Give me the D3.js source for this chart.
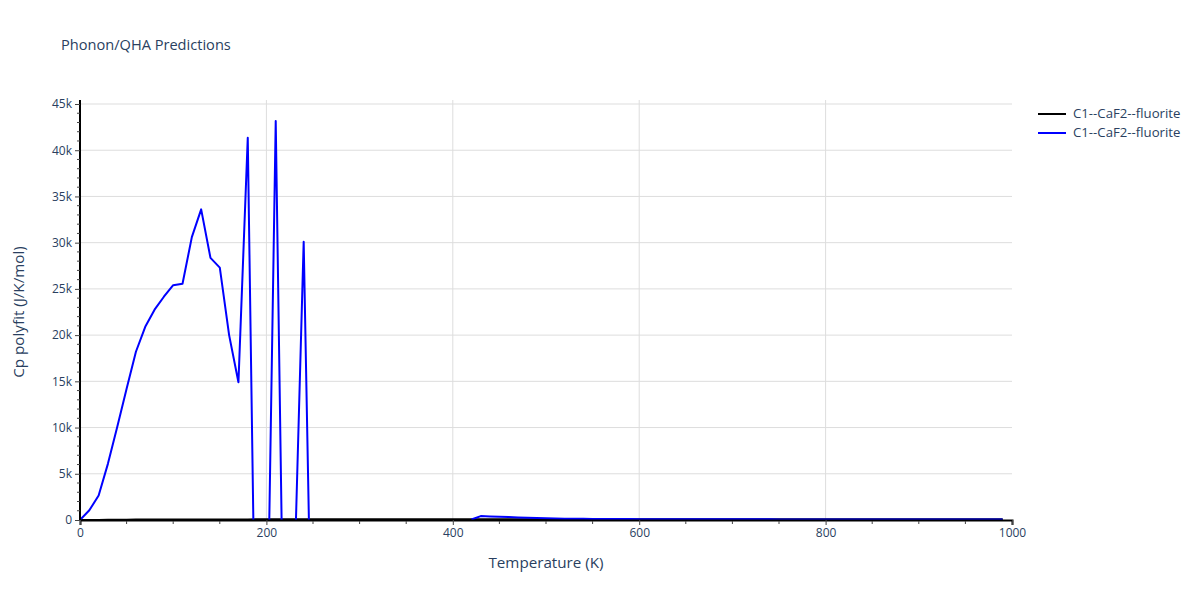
<!DOCTYPE html>
<html>
<head>
<meta charset="utf-8">
<script src="https://cdn.jsdelivr.net/npm/d3@7/dist/d3.min.js"></script>
<style>
  body { margin: 0; background: #fff; }
  text { font-family: "Open Sans", "DejaVu Sans", sans-serif; fill: #2a3f5f; }
</style>
</head>
<body>
<svg id="chart" width="1200" height="600"></svg>
<script>
// ---- data ----
const temperatures = [0,10,20,30,40,50,60,70,80,90,100,110,120,130,140,150,160,170,180,190,200,210,220,230,240,250,260,270,280,290,300,310,320,330,340,350,360,370,380,390,400,410,420,430,440,450,460,470,480,490,500,510,520,530,540,550,560,570,580,590,600,610,620,630,640,650,660,670,680,690,700,710,720,730,740,750,760,770,780,790,800,810,820,830,840,850,860,870,880,890,900,910,920,930,940,950,960,970,980,990];
const blackSeries = [0,2,10,20,30,38,45,50,54,57,60,62,63,64,65,66,66,67,67,68,68,68,69,69,69,69,70,70,70,70,70,70,70,71,71,71,71,71,71,71,71,71,71,71,71,72,72,72,72,72,72,72,72,72,72,72,72,72,72,72,72,72,72,72,72,72,72,72,72,72,72,72,72,72,72,72,72,72,72,72,72,72,72,72,72,72,72,72,72,72,72,72,72,72,72,72,72,72,72,72];
const blueSeries = [0,1050,2650,6100,10100,14200,18200,20900,22750,24150,25400,25550,30600,33600,28350,27300,20000,14900,41350,-27600,-19400,43150,-25300,-6200,30100,-23600,
  null,null,null,null,null,null,null,null,null,null,null,null,null,null,null,null,
  50,420,390,360,320,280,240,210,180,160,145,135,125,118,112,106,100,96,92,89,86,84,82,80,78,76,74,73,72,71,70,69,68,67,66,66,65,65,64,64,63,63,62,62,62,61,61,61,60,60,60,60,59,59,59,59,58,58];
const seriesNames = ["C1--CaF2--fluorite", "C1--CaF2--fluorite"];
const seriesColors = ["#000000", "#0000ff"];
const xTicks = [0,200,400,600,800,1000];
const yTicks = [0,5000,10000,15000,20000,25000,30000,35000,40000,45000];
const yTickLabels = ["0","5k","10k","15k","20k","25k","30k","35k","40k","45k"];

// ---- layout ----
const svg = d3.select("#chart");
const L = 80, R = 1012, T = 104, B = 520;
const x = d3.scaleLinear().domain([0, 1000]).range([L, R]);
const y = d3.scaleLinear().domain([0, 45000]).range([B, T]);

// gridlines
const grid = svg.append("g");
grid.selectAll("line.gx").data(xTicks.filter(d => d > 0 && d < 1000)).enter().append("line")
  .attr("x1", d => x(d)).attr("x2", d => x(d)).attr("y1", T - 4).attr("y2", B)
  .attr("stroke", "#dddddd").attr("stroke-width", 1);
grid.selectAll("line.gy").data(yTicks.filter(d => d > 0)).enter().append("line")
  .attr("x1", L).attr("x2", R).attr("y1", d => y(d)).attr("y2", d => y(d))
  .attr("stroke", "#dddddd").attr("stroke-width", 1);

// clip
svg.append("clipPath").attr("id", "clip").append("rect")
  .attr("x", L).attr("y", T - 4).attr("width", R - L).attr("height", B - T + 4);

const lineGen = d3.line()
  .defined(d => d[1] !== null)
  .x(d => x(d[0])).y(d => y(d[1]));

const plot = svg.append("g").attr("clip-path", "url(#clip)");
[blackSeries, blueSeries].forEach((s, i) => {
  plot.append("path")
    .datum(temperatures.map((t, j) => [t, s[j]]))
    .attr("d", lineGen)
    .attr("fill", "none")
    .attr("stroke", seriesColors[i])
    .attr("stroke-width", 2)
    .attr("stroke-linejoin", "round");
});

// axes
const xAxis = d3.axisBottom(x).tickValues(xTicks).tickSize(5).tickPadding(3).tickFormat(d3.format("d"));
const gx = svg.append("g").attr("transform", `translate(0,${B})`).call(xAxis);
gx.select(".domain").attr("stroke", "#000").attr("stroke-width", 2);
gx.selectAll(".tick line").attr("stroke", "#444");
gx.selectAll(".tick text").style("font-size", "12px").attr("fill", "#2a3f5f");
const xMinor = d3.range(0, 1001, 50).filter(d => d % 200 !== 0);
svg.append("g").selectAll("line").data(xMinor).enter().append("line")
  .attr("x1", d => x(d)).attr("x2", d => x(d)).attr("y1", B + 1).attr("y2", B + 4)
  .attr("stroke", "#444");

const yAxis = d3.axisLeft(y).tickValues(yTicks).tickSize(5).tickPadding(3)
  .tickFormat((d, i) => yTickLabels[i]);
const gy = svg.append("g").attr("transform", `translate(${L},0)`).call(yAxis);
gy.select(".domain").attr("stroke", "#000").attr("stroke-width", 2).attr("d", `M0,${T - 4}V${B}`);
gy.selectAll(".tick line").attr("stroke", "#444");
gy.selectAll(".tick text").style("font-size", "12px").attr("fill", "#2a3f5f");
const yMinor = d3.range(0, 46000, 1000).filter(d => d % 5000 !== 0);
svg.append("g").selectAll("line").data(yMinor).enter().append("line")
  .attr("x1", L - 3).attr("x2", L).attr("y1", d => y(d)).attr("y2", d => y(d))
  .attr("stroke", "#444");

// titles
svg.append("text").attr("x", 61).attr("y", 50).style("font-size", "14.6px").text("Phonon/QHA Predictions");
svg.append("text").attr("x", (L + R) / 2).attr("y", 568).attr("text-anchor", "middle")
  .style("font-size", "15.2px").text("Temperature (K)");
svg.append("text").attr("transform", `translate(24,${(T + B) / 2}) rotate(-90)`).attr("text-anchor", "middle")
  .style("font-size", "15.2px").text("Cp polyfit (J/K/mol)");

// legend
const leg = svg.append("g");
seriesNames.forEach((n, i) => {
  const ly = 114 + i * 19;
  leg.append("line").attr("x1", 1038).attr("x2", 1066).attr("y1", ly).attr("y2", ly)
    .attr("stroke", seriesColors[i]).attr("stroke-width", 2);
  leg.append("text").attr("x", 1073).attr("y", ly + 4).style("font-size", "13.2px").text(n);
});
</script>
</body>
</html>
